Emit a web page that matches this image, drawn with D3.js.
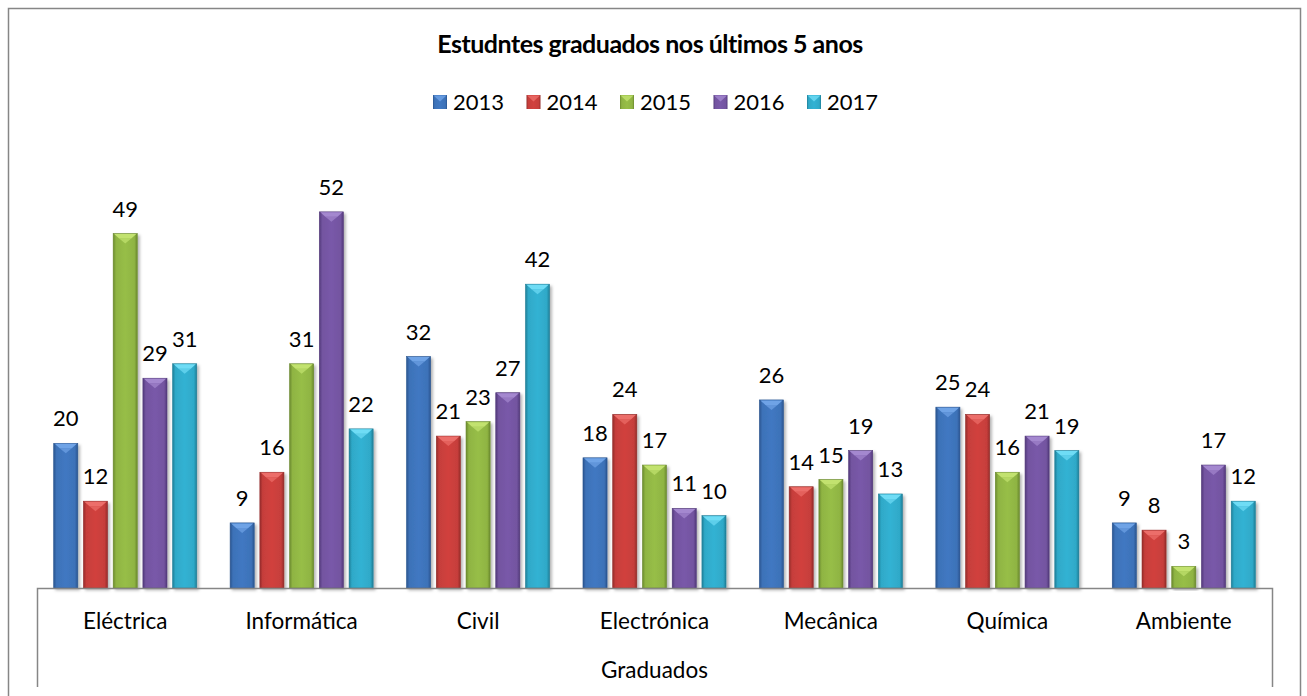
<!DOCTYPE html>
<html>
<head>
<meta charset="utf-8">
<script src="https://cdn.jsdelivr.net/npm/d3@7"></script>
<style>
  body { margin: 0; background: #fff; }
  svg text { font-family: "Lato", "Open Sans", sans-serif; fill: #000; }
</style>
</head>
<body>
<div id="chart"></div>
<script>
// data
var categories = ["Eléctrica", "Informática", "Civil", "Electrónica", "Mecânica", "Química", "Ambiente"];
var years = ["2013", "2014", "2015", "2016", "2017"];
var v2013 = [20, 9, 32, 18, 26, 25, 9];
var v2014 = [12, 16, 21, 24, 14, 24, 8];
var v2015 = [49, 31, 23, 17, 15, 16, 3];
var v2016 = [29, 52, 27, 11, 19, 21, 17];
var v2017 = [31, 22, 42, 10, 13, 19, 12];
var seriesValues = [v2013, v2014, v2015, v2016, v2017];
var yTicks = [0, 60];

var colors = ["#3d72b8", "#c63e3b", "#8fb443", "#7354a0", "#2fa9c8"];
var darks = ["#2a5590", "#952c2a", "#6b8a2e", "#52397a", "#1f7f98"];
var lights = ["#6fa3e6", "#ec6e6a", "#c2e26f", "#a488cf", "#6fdcf5"];

var width = 1307, height = 696;
var plotLeft = 37, plotRight = 1272, base = 588, plotTop = 154;

var svg = d3.select("#chart").append("svg")
    .attr("width", width)
    .attr("height", height);

var defs = svg.append("defs");
colors.forEach(function(c, i) {
    var g = defs.append("linearGradient").attr("id", "grad" + i)
        .attr("x1", "0%").attr("x2", "100%").attr("y1", "0%").attr("y2", "0%");
    g.append("stop").attr("offset", "0%").attr("stop-color", darks[i]);
    g.append("stop").attr("offset", "12%").attr("stop-color", c);
    g.append("stop").attr("offset", "50%").attr("stop-color", d3.color(c).brighter(0.15));
    g.append("stop").attr("offset", "88%").attr("stop-color", c);
    g.append("stop").attr("offset", "100%").attr("stop-color", darks[i]);
});
var shadow = defs.append("filter").attr("id", "shadow")
    .attr("x", "-20%").attr("y", "-5%").attr("width", "150%").attr("height", "115%");
shadow.append("feDropShadow").attr("dx", 2).attr("dy", 2).attr("stdDeviation", 1.5)
    .attr("flood-color", "#000").attr("flood-opacity", 0.3);

// outer frame (bottom runs off the picture)
svg.append("path")
    .attr("d", "M8.5,696 V8.5 H1300.5 V696")
    .attr("fill", "none").attr("stroke", "#868686").attr("stroke-width", 1.5);

// title
svg.append("text")
    .attr("x", 650).attr("y", 53)
    .attr("text-anchor", "middle")
    .style("font-weight", "bold").style("font-size", "25px")
    .style("letter-spacing", "-0.5px")
    .text("Estudntes graduados nos últimos 5 anos");

// legend
var legend = svg.append("g").selectAll("g").data(years).enter().append("g")
    .attr("transform", function(d, i) { return "translate(" + (433 + i * 93.5) + ",0)"; });
legend.append("rect")
    .attr("x", 0).attr("y", 95).attr("width", 14).attr("height", 14)
    .attr("fill", function(d, i) { return "url(#grad" + i + ")"; });
legend.append("path")
    .attr("d", "M0.5,95.5 H13.5 L7,101.5 Z")
    .attr("fill", function(d, i) { return lights[i]; }).attr("opacity", 0.8);
legend.append("text")
    .attr("x", 20).attr("y", 110)
    .style("font-size", "22px")
    .text(function(d) { return d; });

// scales
var x0 = d3.scaleBand().domain(categories).range([plotLeft, plotRight]).paddingInner(0).paddingOuter(0);
var x1 = d3.scaleBand().domain(years)
    .range([16.7, x0.bandwidth() - 16.7]).paddingInner(0.19).paddingOuter(0);
var y = d3.scaleLinear().domain([yTicks[0], yTicks[1]]).range([base, plotTop]);

var groups = svg.append("g").selectAll("g").data(categories).enter().append("g")
    .attr("transform", function(d) { return "translate(" + x0(d) + ",0)"; });

var bars = groups.selectAll("g").data(function(d, ci) {
    return years.map(function(yr, si) { return { year: yr, s: si, v: seriesValues[si][ci] }; });
}).enter().append("g");

bars.append("rect")
    .attr("x", function(d) { return x1(d.year); })
    .attr("y", function(d) { return y(d.v); })
    .attr("width", x1.bandwidth())
    .attr("height", function(d) { return base - y(d.v); })
    .attr("fill", function(d) { return "url(#grad" + d.s + ")"; })
    .attr("stroke", function(d) { return darks[d.s]; })
    .attr("stroke-width", 0.6)
    .attr("filter", "url(#shadow)");

// bevel highlight at the top of each bar
bars.append("path")
    .attr("d", function(d) {
        var bx = x1(d.year), bw = x1.bandwidth(), by = y(d.v);
        return "M" + (bx + 1) + "," + (by + 0.5) + " H" + (bx + bw - 1) +
            " L" + (bx + bw - 6) + "," + (by + 5) + " H" + (bx + 6) + " Z";
    })
    .attr("fill", function(d) { return lights[d.s]; });
bars.append("path")
    .attr("d", function(d) {
        var bx = x1(d.year), bw = x1.bandwidth(), by = y(d.v);
        return "M" + (bx + 6) + "," + (by + 5) + " H" + (bx + bw - 6) +
            " L" + (bx + bw / 2) + "," + (by + 10) + " Z";
    })
    .attr("fill", function(d) { return lights[d.s]; })
    .attr("opacity", 0.7);

bars.append("text")
    .attr("x", function(d) { return x1(d.year) + x1.bandwidth() / 2; })
    .attr("y", function(d) { return y(d.v) - 17; })
    .attr("text-anchor", "middle")
    .style("font-size", "22px")
    .text(function(d) { return d.v; });

// category axis box
svg.append("path")
    .attr("d", "M" + (plotLeft + 0.5) + ",687 V" + (base + 0.5) + " H" + (plotRight + 0.5) + " V687")
    .attr("fill", "none").attr("stroke", "#868686").attr("stroke-width", 1.5);

groups.append("text")
    .attr("x", x0.bandwidth() / 2)
    .attr("y", 629)
    .attr("text-anchor", "middle")
    .style("font-size", "22.5px")
    .text(function(d) { return d; });

svg.append("text")
    .attr("x", (plotLeft + plotRight) / 2).attr("y", 678)
    .attr("text-anchor", "middle")
    .style("font-size", "22.5px")
    .text("Graduados");
</script>
</body>
</html>
